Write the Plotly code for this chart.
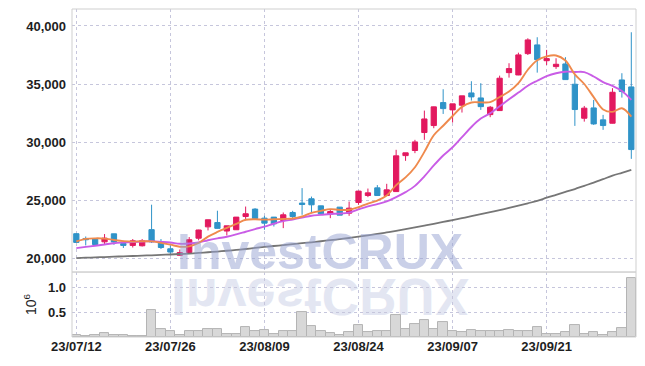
import base64
import plotly.graph_objects as go

dates = [
    "23/07/12", "23/07/13", "23/07/14", "23/07/17", "23/07/18", "23/07/19", "23/07/20", "23/07/21",
    "23/07/24", "23/07/25", "23/07/26", "23/07/27", "23/07/28", "23/07/31",
    "23/08/01", "23/08/02", "23/08/03", "23/08/04", "23/08/07", "23/08/08", "23/08/09", "23/08/10",
    "23/08/11", "23/08/14", "23/08/16", "23/08/17", "23/08/18", "23/08/21", "23/08/22", "23/08/23",
    "23/08/24", "23/08/25", "23/08/28", "23/08/29", "23/08/30", "23/08/31",
    "23/09/01", "23/09/04", "23/09/05", "23/09/06", "23/09/07", "23/09/08", "23/09/11", "23/09/12",
    "23/09/13", "23/09/14", "23/09/15", "23/09/18", "23/09/19", "23/09/20", "23/09/21", "23/09/22",
    "23/09/25", "23/09/26", "23/09/27",
    "23/10/04", "23/10/05", "23/10/06", "23/10/10", "23/10/11",
]

opens = [22100, 21690, 21640, 21400, 22090, 21260, 21090, 21060, 22450, 21430,
         20800, 20240, 20480, 21710, 22690, 23060, 22330, 22440, 23580, 24220,
         23440, 23530, 23240, 23930, 24740, 25110, 24500, 23810, 24390, 23870,
         24790, 25390, 26050, 25390, 25730, 28830, 29270, 30820, 31420, 33400,
         32770, 33170, 34230, 33800, 32360, 32710, 35980, 35780, 37620, 38370,
         37010, 36500, 36730, 34980, 32050, 32940, 31910, 31620, 35350, 34750]
highs = [22150, 21860, 21660, 22070, 22100, 21490, 21640, 21640, 24600, 21640,
         21100, 20740, 21810, 22440, 23310, 24080, 22780, 23540, 24440, 24300,
         23640, 23540, 23930, 24070, 26030, 25300, 24510, 24160, 24400, 24870,
         25800, 25990, 26290, 26400, 29330, 29070, 30190, 32710, 33050, 34550,
         33290, 33980, 35240, 35070, 33110, 35720, 36790, 37700, 38940, 39030,
         37940, 37220, 37310, 35780, 33110, 33630, 32340, 34640, 35930, 39460]
lows = [21300, 21090, 21090, 21150, 21150, 20870, 20910, 21000, 21300, 20780,
        20300, 20210, 20430, 21530, 22380, 22540, 21950, 22430, 23240, 23400,
        22440, 22720, 22580, 23300, 23730, 23870, 23800, 23440, 23700, 23640,
        24590, 25250, 25380, 25380, 25720, 28380, 29040, 30190, 31190, 32420,
        31680, 32540, 33570, 32770, 32140, 32700, 35550, 35760, 37500, 35980,
        36640, 36300, 35370, 31390, 31760, 31480, 31050, 31600, 33830, 28550]
closes = [21350, 21580, 21170, 21720, 21380, 21090, 21490, 21490, 21400, 20910,
          20520, 20470, 21580, 22420, 23300, 22560, 22780, 23530, 23820, 23410,
          23010, 22950, 23730, 23580, 24620, 24590, 23810, 24010, 23700, 24300,
          25770, 25620, 25390, 25880, 28810, 29070, 30010, 31990, 33030, 32880,
          33290, 33980, 33890, 33050, 33000, 35500, 36330, 37510, 38800, 37100,
          37190, 36700, 35380, 32800, 32920, 31560, 31420, 34290, 34350, 29350]

ma_short = [21430, 21650, 21700, 21680, 21560, 21460, 21420, 21450, 21440, 21310,
            21160, 20980, 21010, 21300, 21850, 22250, 22600, 22950, 23300, 23350,
            23310, 23340, 23370, 23410, 23580, 23900, 24070, 24220, 24150, 24160,
            24380, 24700, 24960, 25390, 26290, 26950, 27830, 29150, 30580, 31400,
            32240, 33030, 33410, 33420, 33440, 33880, 34350, 35080, 36230, 37050,
            37380, 37460, 37030, 35830, 35000, 33870, 32810, 32600, 32910, 32190]
ma_mid = [20860, 20960, 21060, 21170, 21280, 21340, 21390, 21430, 21450, 21400,
          21340, 21230, 21250, 21340, 21540, 21700, 21840, 22040, 22270, 22500,
          22710, 22960, 23180, 23320, 23480, 23650, 23720, 23800, 23830, 23920,
          24200, 24460, 24650, 24880, 25250, 25680, 26220, 27040, 27980, 28840,
          29550, 30420, 31300, 32020, 32480, 33080, 33680, 34260, 34850, 35280,
          35670, 35930, 36060, 36040, 36030, 35650, 35160, 34830, 34400, 33630]
ma_long = [20000, 20030, 20060, 20090, 20120, 20150, 20180, 20210, 20240, 20270,
           20310, 20350, 20390, 20440, 20500, 20560, 20630, 20700, 20780, 20870,
           20960, 21040, 21120, 21200, 21280, 21360, 21450, 21540, 21630, 21730,
           21840, 21960, 22080, 22210, 22350, 22490, 22640, 22790, 22950, 23110,
           23280, 23440, 23610, 23780, 23950, 24130, 24320, 24520, 24720, 24930,
           25200, 25450, 25700, 25950, 26230, 26500, 26800, 27100, 27350, 27600]

volumes = [0.03, 0.01, 0.04, 0.08, 0.04, 0.04, 0.02, 0.02, 0.54, 0.16,
           0.12, 0.04, 0.125, 0.125, 0.16, 0.16, 0.06, 0.06, 0.20, 0.11,
           0.145, 0.06, 0.11, 0.11, 0.50, 0.225, 0.125, 0.08, 0.04, 0.10,
           0.24, 0.09, 0.11, 0.11, 0.445, 0.165, 0.265, 0.34, 0.165, 0.30,
           0.125, 0.09, 0.14, 0.11, 0.125, 0.125, 0.145, 0.11, 0.125, 0.205,
           0.06, 0.06, 0.09, 0.245, 0.06, 0.09, 0.04, 0.09, 0.185, 1.19]

tick_labels = ["23/07/12", "23/07/26", "23/08/09", "23/08/24", "23/09/07", "23/09/21"]
price_ticks = [20000, 25000, 30000, 35000, 40000]
volume_ticks = [0.5, 1.0]
volume_tick_text = ["0.5", "1.0"]
watermark = "InvestCRUX"

UP = "#e2195f"
DOWN = "#2f93c8"
GRID = "#c6c6dc"
FONT = "Liberation Sans, Arial, sans-serif"
TXT = "#1e1e1e"
VOL_TOP = 0.198

fig = go.Figure()

fig.add_trace(go.Scatter(x=dates, y=ma_long, mode="lines", line=dict(color="#767676", width=1.8, shape="spline"),
                         hoverinfo="skip", showlegend=False))
fig.add_trace(go.Candlestick(
    x=dates, open=opens, high=highs, low=lows, close=closes,
    increasing=dict(line=dict(color=UP, width=1), fillcolor=UP),
    decreasing=dict(line=dict(color=DOWN, width=1), fillcolor=DOWN),
    whiskerwidth=0, showlegend=False, hoverinfo="skip"))
fig.add_trace(go.Scatter(x=dates, y=ma_mid, mode="lines", line=dict(color="#c95ce6", width=1.9, shape="spline"),
                         hoverinfo="skip", showlegend=False))
fig.add_trace(go.Scatter(x=dates, y=ma_short, mode="lines", line=dict(color="#ef8a4d", width=1.9, shape="spline"),
                         hoverinfo="skip", showlegend=False))
fig.add_trace(go.Bar(x=dates, y=volumes, yaxis="y2",
                     marker=dict(color="#d8d8d8", line=dict(color="#b4b4b4", width=1)),
                     hoverinfo="skip", showlegend=False))

# mirrored watermark (reflection) as an svg image
svg = ('<svg xmlns="http://www.w3.org/2000/svg" width="600" height="120" viewBox="0 0 600 120">'
       '<g transform="scale(1,-1)">'
       '<text x="300" y="-14" text-anchor="middle" font-family="Liberation Sans, Arial, sans-serif" '
       'font-weight="bold" font-size="104" fill="#e3e6f2">' + watermark + '</text></g></svg>')
svg_uri = "data:image/svg+xml;base64," + base64.b64encode(svg.encode()).decode()
fig.add_layout_image(dict(source=svg_uri, xref="paper", yref="paper", x=0.44, y=VOL_TOP,
                          sizex=300 / 564, sizey=60 / 328, xanchor="center", yanchor="top",
                          sizing="stretch", layer="below"))

fig.add_annotation(text=watermark, xref="paper", yref="paper", x=0.44, y=VOL_TOP,
                   xanchor="center", yanchor="bottom", showarrow=False, yshift=-10,
                   font=dict(family="Liberation Sans, Arial, sans-serif", size=50,
                             color="rgba(150,162,210,0.5)", weight="bold"))

# frames
fig.add_shape(type="rect", xref="paper", yref="paper", x0=0, x1=1, y0=VOL_TOP, y1=1,
              line=dict(color="#cfcfcf", width=1))
fig.add_shape(type="rect", xref="paper", yref="paper", x0=0, x1=1, y0=0, y1=VOL_TOP,
              line=dict(color="#cfcfcf", width=1))

tickfont = dict(family=FONT, size=13, color=TXT, weight="bold")

# the page body adds an 8px offset, so the figure is 8px smaller and margins shifted
fig.update_layout(
    width=637, height=358,
    margin=dict(l=64, r=9, t=1, b=29, autoexpand=False),
    paper_bgcolor="white", plot_bgcolor="rgba(0,0,0,0)",
    bargap=0, boxgap=0.2,
    font=dict(family=FONT, size=13, color=TXT),
    xaxis=dict(type="category", categoryorder="array", categoryarray=dates,
               range=[-0.46, 59.5], anchor="y2", automargin=False,
               tickmode="array", tickvals=tick_labels, ticktext=tick_labels,
               showgrid=True, gridcolor=GRID, griddash="dot", gridwidth=1,
               ticks="", showline=False, zeroline=False,
               rangeslider=dict(visible=False), tickfont=tickfont),
    yaxis=dict(domain=[VOL_TOP, 1], range=[18795, 41464], automargin=False,
               tickmode="array", tickvals=price_ticks, tickformat=",d",
               showgrid=True, gridcolor=GRID, griddash="dot", gridwidth=1,
               ticks="", showline=False, zeroline=False, ticklabelstandoff=5,
               tickfont=tickfont),
    yaxis2=dict(domain=[0, VOL_TOP], range=[0, 1.3], automargin=False,
                tickmode="array", tickvals=volume_ticks, ticktext=volume_tick_text,
                showgrid=True, gridcolor=GRID, griddash="dot", gridwidth=1,
                ticks="", showline=False, zeroline=False, ticklabelstandoff=5,
                title=dict(text="10<sup>6</sup>", standoff=8, font=dict(family=FONT, size=14, color=TXT)),
                tickfont=tickfont),
)

fig.write_html("out.html")
